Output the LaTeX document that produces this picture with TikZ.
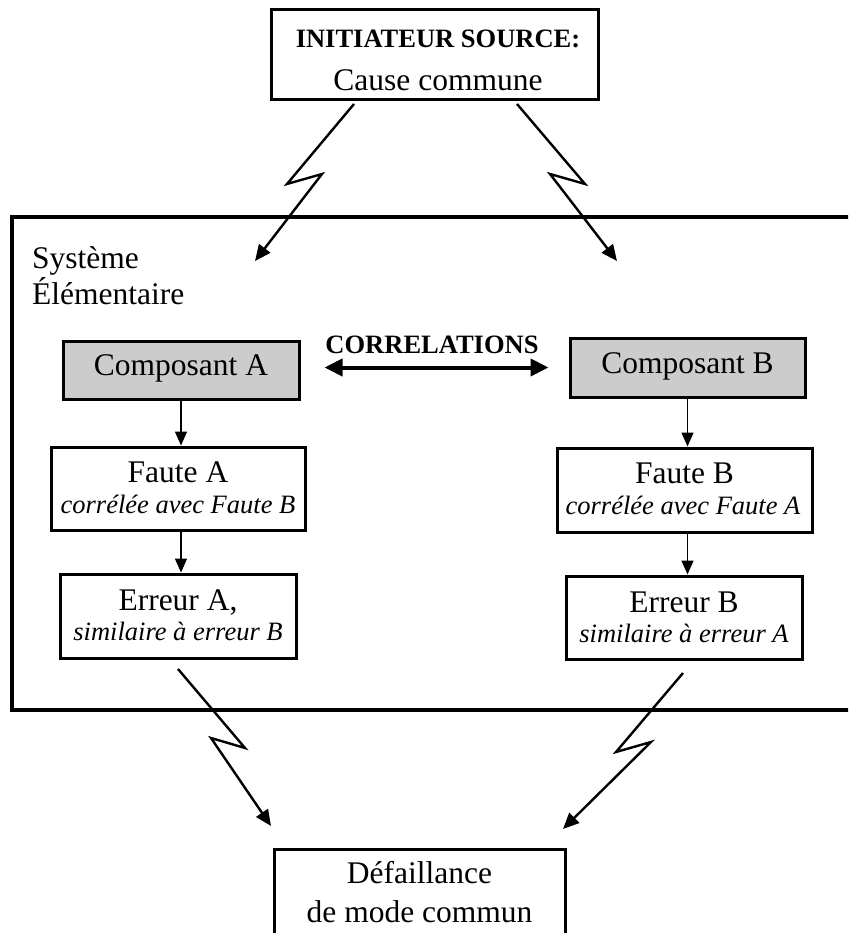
\documentclass[tikz,border=0pt]{standalone}
\usepackage{fontspec}
\setmainfont{Liberation Serif}
\usetikzlibrary{arrows.meta}

\newcommand\txtL{\fontsize{31.5}{36}\selectfont}
\newcommand\txtS{\fontsize{26.5}{30}\selectfont}

\tikzset{
  box/.style={draw, line width=3pt, rectangle, inner sep=0pt, fill=white},
  compbox/.style={box, fill=black!20},
  lbl/.style={anchor=base, inner sep=0pt, font=\txtL},
  sublbl/.style={anchor=base, inner sep=0pt, font=\txtS\itshape},
  flow/.style={line width=1.5pt, -{Triangle[length=14pt,width=12pt]}},
  bolt/.style={line width=2.4pt, line join=miter, -{Triangle[length=16pt,width=14pt]}},
  corr/.style={line width=4pt, {Triangle[length=18pt,width=17pt]}-{Triangle[length=18pt,width=17pt]}},
}

\begin{document}
\begin{tikzpicture}[x=1pt, y=-1pt]
\useasboundingbox (0,0) rectangle (848,933);
\clip (0,0) rectangle (848,933);

% enclosing system frame (runs past the right edge)
\node[draw, line width=3.2pt, rectangle, inner sep=0pt, minimum width=848pt, minimum height=493pt]
  (sys) at (436,463.5) {};
\node[anchor=base west, inner sep=0pt, font=\txtL] (sysl1) at (32,268) {Système};
\node[anchor=base west, inner sep=0pt, font=\txtL] (sysl2) at (32,304) {Élémentaire};

% source of the common cause
\node[box, minimum width=327pt, minimum height=90pt] (src) at (434.5,55) {};
\node[anchor=base, inner sep=0pt, font=\txtS\bfseries] (srct1) at (438,48) {INITIATEUR SOURCE:};
\node[lbl] (srct2) at (438,91) {Cause commune};

% component A chain
\node[compbox, minimum width=236pt, minimum height=58pt] (compA) at (181,370) {};
\node[lbl] (compAt) at (181,375) {Composant A};
\node[box, minimum width=254pt, minimum height=83pt] (fauteA) at (178,488.5) {};
\node[lbl] (fauteAt1) at (178,482) {Faute A};
\node[sublbl] (fauteAt2) at (178,513) {corrélée avec Faute B};
\node[box, minimum width=236pt, minimum height=84pt] (errA) at (178,616) {};
\node[lbl] (errAt1) at (178,610) {Erreur A,};
\node[sublbl] (errAt2) at (178,640) {similaire à erreur B};

% component B chain
\node[compbox, minimum width=235pt, minimum height=59pt] (compB) at (687.5,367.5) {};
\node[lbl] (compBt) at (687.5,373) {Composant B};
\node[box, minimum width=255pt, minimum height=84pt] (fauteB) at (684.5,490) {};
\node[lbl] (fauteBt1) at (684.5,483) {Faute B};
\node[sublbl] (fauteBt2) at (683,514) {corrélée avec Faute A};
\node[box, minimum width=236pt, minimum height=83pt] (errB) at (684,617.5) {};
\node[lbl] (errBt1) at (684,612) {Erreur B};
\node[sublbl] (errBt2) at (684,642) {similaire à erreur A};

% resulting failure (runs past the bottom edge)
\node[box, minimum width=291pt, minimum height=120pt] (fail) at (419.5,909) {};
\node[lbl] (failt1) at (419.5,883) {Défaillance};
\node[lbl] (failt2) at (419.5,922) {de mode commun};

% correlation between the two components
\node[anchor=base, inner sep=0pt, font=\txtS\bfseries] (corrt) at (432,353) {CORRELATIONS};
\draw[corr, shorten <=24pt, shorten >=20pt] (compA.east |- compB.west) -- (compB.west);

% internal propagation
\draw[flow] (compA.south) -- (compA.south |- fauteA.north);
\draw[flow] (compA.south |- fauteA.south) -- (compA.south |- errA.north);
\draw[flow] (compB.south) -- (compB.south |- fauteB.north);
\draw[flow] (compB.south |- fauteB.south) -- (compB.south |- errB.north);

% lightning connectors
\coordinate (b1s) at (354,104); \coordinate (b1a) at (287,184);
\coordinate (b1b) at (322,174); \coordinate (b1e) at (255,261);
\coordinate (b2s) at (517,104); \coordinate (b2a) at (585,184);
\coordinate (b2b) at (550,174); \coordinate (b2e) at (617,261);
\coordinate (b3s) at (178,669); \coordinate (b3a) at (245,748);
\coordinate (b3b) at (211,738); \coordinate (b3e) at (271,826);
\coordinate (b4s) at (683,673); \coordinate (b4a) at (616,752);
\coordinate (b4b) at (651,742); \coordinate (b4e) at (563,829);
\draw[bolt] (b1s) -- (b1a) -- (b1b) -- (b1e);
\draw[bolt] (b2s) -- (b2a) -- (b2b) -- (b2e);
\draw[bolt] (b3s) -- (b3a) -- (b3b) -- (b3e);
\draw[bolt] (b4s) -- (b4a) -- (b4b) -- (b4e);
\end{tikzpicture}
\end{document}
